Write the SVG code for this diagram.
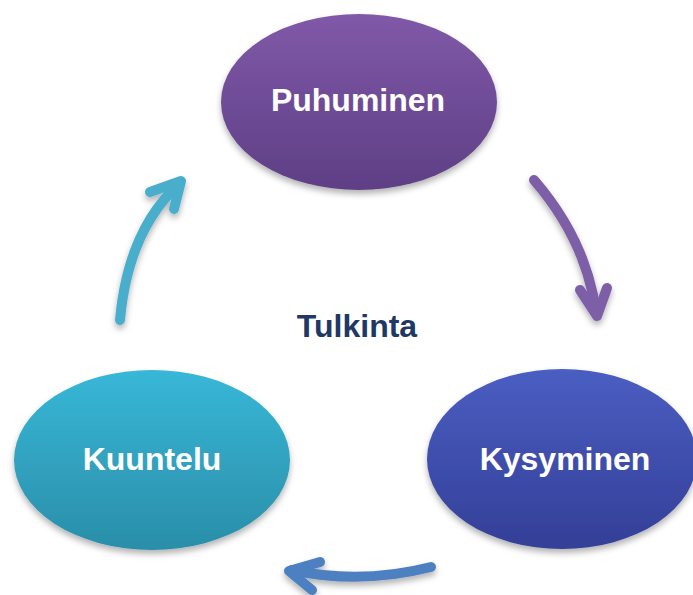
<svg xmlns="http://www.w3.org/2000/svg" width="693" height="595" viewBox="0 0 693 595">
<defs>
<linearGradient id="gP" x1="0" y1="0" x2="0" y2="1"><stop offset="0" stop-color="#8059a8"/><stop offset="1" stop-color="#5e3f85"/></linearGradient>
<linearGradient id="gK" x1="0" y1="0" x2="0" y2="1"><stop offset="0" stop-color="#4a5ec2"/><stop offset="1" stop-color="#343f97"/></linearGradient>
<linearGradient id="gU" x1="0" y1="0" x2="0" y2="1"><stop offset="0" stop-color="#38b7d8"/><stop offset="1" stop-color="#2a8ea8"/></linearGradient>
<filter id="sh" x="-20%" y="-20%" width="140%" height="150%"><feDropShadow dx="0" dy="4" stdDeviation="3" flood-color="#000" flood-opacity="0.3"/></filter>
</defs>
<style>
.lbl{font-family:"Liberation Sans",Arial,sans-serif;font-weight:bold;font-size:32px;fill:#fff;text-anchor:middle;dominant-baseline:central}
.arr{fill:none;stroke-width:10;stroke-linecap:round;stroke-linejoin:round}
</style>
<g id="connectors" filter="url(#sh)">
<g stroke="#7b5ea7" class="arr"><path class="arr" d="M534,180 Q586,240 596,312"/><polyline class="arr" points="580,290 597,316 607,288"/></g>
<g stroke="#4aaecb"><path class="arr" d="M120,320 Q128,230 180,183"/><polyline class="arr" points="150,192 181,181 174,209"/></g>
<g stroke="#4e80c0"><path class="arr" d="M431,567 Q360,585 292,570"/><polyline class="arr" points="320,562 289,571 312,590"/></g>
</g>
<g id="puhuminen"><ellipse cx="359" cy="102" rx="138" ry="88" fill="url(#gP)" filter="url(#sh)"/><text class="lbl" x="358" y="100">Puhuminen</text></g>
<g id="kysyminen"><ellipse cx="562" cy="459" rx="135" ry="90" fill="url(#gK)" filter="url(#sh)"/><text class="lbl" x="565" y="459">Kysyminen</text></g>
<g id="kuuntelu"><ellipse cx="152" cy="460" rx="138" ry="90" fill="url(#gU)" filter="url(#sh)"/><text class="lbl" x="152" y="459">Kuuntelu</text></g>
<g id="tulkinta"><text x="357" y="326" style="font-family:'Liberation Sans',Arial,sans-serif;font-weight:bold;font-size:32px;fill:#1f3864;text-anchor:middle;dominant-baseline:central">Tulkinta</text></g>
</svg>
